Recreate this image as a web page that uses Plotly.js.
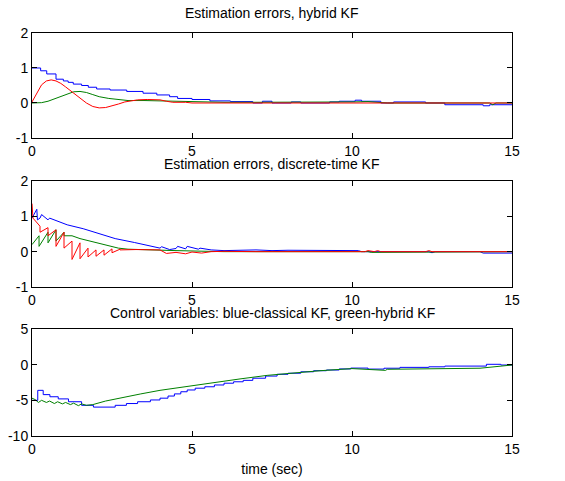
<!DOCTYPE html>
<html>
<head>
<meta charset="utf-8">
<script src="https://cdn.plot.ly/plotly-3.0.1.min.js"></script>
<style>html,body{margin:0;padding:0;background:#fff;}#chart{width:565px;height:481px;}</style>
</head>
<body>
<div id="chart"></div>
<script>
// ---------- Data ----------
// Plot 1: Estimation errors, hybrid KF
var t1Blue = [0,0.27,0.46,0.75,0.98,1.13,1.29,1.55,1.76,2.02,2.44,2.96,3.47,3.9,4.3,4.55,5.0,5.56,6.2,6.9,7.2,7.5,8.1,8.4,9.3,9.6,10.1,10.3,10.9,11.3,12.3,12.9,14.1,14.3,15];
var v1Blue = [1.0,0.92,0.83,0.68,0.63,0.59,0.54,0.5,0.45,0.4,0.37,0.33,0.28,0.23,0.18,0.13,0.1,0.06,0.04,0.0,0.05,0.0,0.03,0.0,0.03,0.05,0.08,0.05,0.0,0.03,0.0,-0.05,-0.08,-0.05,-0.05];
var t1Green = [0,0.3,0.5,0.7,0.9,1.1,1.3,1.5,1.7,1.9,2.1,2.4,2.7,3.0,3.5,4.0,4.4,5.0,6.0,7.0,8.0,9.0,10.0,10.5,11.0,11.1,14.3,14.4,14.5,15];
var v1Green = [0,0.01,0.05,0.12,0.2,0.27,0.32,0.33,0.3,0.24,0.18,0.13,0.09,0.07,0.07,0.06,0.04,0.02,0.02,0.02,0.02,0.01,0.03,0.04,0.02,0,0,-0.05,0,0];
var t1Red = [0,0.1,0.2,0.3,0.45,0.6,0.75,0.9,1.05,1.2,1.35,1.5,1.7,1.9,2.1,2.3,2.5,2.7,2.9,3.1,3.3,3.6,4.0,4.2,4.4,4.8,5.0,7.6,15];
var v1Red = [0.03,0.2,0.38,0.52,0.63,0.66,0.63,0.56,0.46,0.35,0.24,0.14,0.0,-0.1,-0.14,-0.13,-0.09,-0.03,0.03,0.07,0.09,0.1,0.09,0.05,0.02,0.02,0.0,0,0];

// Plot 2: Estimation errors, discrete-time KF
var t2Blue = [0,0.15,0.17,0.25,0.3,0.5,0.55,0.75,1.1,1.6,2.1,2.6,3.2,3.7,4.0,4.05,4.3,4.5,4.55,4.8,4.85,5.2,5.25,5.6,6.0,7.0,7.5,8.0,9.0,10.2,10.3,12.4,12.5,12.6,14.0,14.1,15];
var v2Blue = [0.95,1.2,0.9,0.95,1.05,0.9,0.95,0.88,0.76,0.65,0.5,0.37,0.26,0.17,0.1,0.14,0.06,0.09,0.15,0.08,0.15,0.07,0.1,0.05,0.03,0.05,0.03,0.04,0.03,0.03,0.0,0.0,-0.03,0.0,0.0,-0.04,-0.04];
var t2Green = [0,0.22,0.22,0.5,0.5,0.75,0.75,1.0,1.0,1.25,1.5,1.8,2.1,2.4,2.7,3.0,3.5,4.5,5.5,6.0,10.5,10.6,15];
var v2Green = [0.2,0.45,0.15,0.55,0.25,0.62,0.3,0.55,0.45,0.45,0.37,0.3,0.22,0.15,0.1,0.07,0.05,0.03,0.01,0.0,0.0,-0.02,0.0];
var t2Red = [0,0.03,0.25,0.25,0.5,0.5,0.75,0.75,1.0,1.0,1.25,1.25,1.5,1.5,1.75,1.75,2.0,2.0,2.25,2.25,2.5,2.5,2.75,2.75,3.25,4.0,4.2,4.5,4.8,5.0,5.3,5.6,6.0,7.0,10.4,10.5,10.7,10.8,10.9,12.3,12.4,12.5,15];
var v2Red = [1.36,0.95,0.72,0.55,0.68,0.45,0.62,0.15,0.55,0.1,0.3,-0.22,0.25,-0.2,0.1,-0.15,0.05,-0.13,0.05,-0.1,0.08,-0.03,0.07,0.05,0.06,0.05,-0.05,-0.02,-0.06,-0.01,-0.04,0.0,0.01,0.0,0.0,0.03,0.0,0.03,0.0,0.0,0.03,0.0,0.0];

// Plot 3: Control variables
var t3Blue = [0,0.18,0.35,0.56,0.82,1.14,1.55,1.92,2.6,2.95,3.3,3.7,4.0,4.25,4.45,4.65,4.85,5.1,5.4,5.7,6.0,6.3,6.6,6.9,7.3,7.66,8.0,8.4,8.8,9.2,9.6,9.96,10.5,11.0,11.5,12.4,12.9,14.2,14.65,15];
var v3Blue = [-5.0,-3.6,-4.2,-4.5,-4.8,-5.2,-5.7,-5.95,-5.7,-5.45,-5.2,-4.95,-4.7,-4.4,-4.1,-3.8,-3.55,-3.3,-3.1,-2.85,-2.6,-2.4,-2.2,-1.9,-1.6,-1.35,-1.2,-1.0,-0.85,-0.75,-0.6,-0.48,-0.62,-0.5,-0.38,-0.3,-0.2,0.05,-0.05,-0.05];
var t3Green = [0,0.1,0.2,0.3,0.45,0.55,0.7,0.8,0.95,1.05,1.2,1.3,1.45,1.55,1.7,1.9,2.3,2.8,3.4,4.0,4.6,5.2,5.8,6.5,7.35,8.2,9.0,10.0,10.5,11.05,11.1,11.5,12.6,14.0,15];
var v3Green = [-4.7,-4.9,-5.3,-5.0,-5.3,-5.1,-5.45,-5.2,-5.5,-5.3,-5.6,-5.4,-5.75,-5.5,-5.7,-5.6,-5.1,-4.6,-4.1,-3.6,-3.2,-2.9,-2.5,-2.0,-1.5,-1.15,-0.85,-0.55,-0.65,-0.8,-0.65,-0.62,-0.55,-0.5,-0.05];

var xTicks = [0,5,10,15];
var yTicksErr = [-1,0,1,2];
var yTicksCtrl = [-10,-5,0,5];
var titles = ['Estimation errors, hybrid KF', 'Estimation errors, discrete-time KF', 'Control variables: blue-classical KF, green-hybrid KF'];
var xLabel = 'time (sec)';

// ---------- Styles ----------
var BLUE = '#0000ff', GREEN = '#008000', RED = '#ff0000';
var FONT = 'Arial, "Liberation Sans", Helvetica, sans-serif';

function tr(x, y, color, xa, ya, shape) {
  return {x: x, y: y, type: 'scatter', mode: 'lines', xaxis: xa, yaxis: ya,
          line: {color: color, width: 1, shape: shape || 'linear'}, hoverinfo: 'skip'};
}

var data = [
  tr(t1Blue, v1Blue, BLUE, 'x', 'y', 'hv'),
  tr(t1Green, v1Green, GREEN, 'x', 'y'),
  tr(t1Red, v1Red, RED, 'x', 'y'),
  tr(t2Blue, v2Blue, BLUE, 'x2', 'y2'),
  tr(t2Green, v2Green, GREEN, 'x2', 'y2'),
  tr(t2Red, v2Red, RED, 'x2', 'y2'),
  tr(t3Blue, v3Blue, BLUE, 'x3', 'y3', 'hv'),
  tr(t3Green, v3Green, GREEN, 'x3', 'y3')
];

function xax(anchor) {
  return {anchor: anchor, domain: [0, 1], range: [0, 15], tickvals: xTicks, ticktext: xTicks.map(String),
          ticks: 'inside', ticklen: 5, tickcolor: '#000', showline: true, linecolor: '#000', linewidth: 1,
          mirror: 'ticks', showgrid: false, zeroline: false, tickfont: {family: FONT, size: 14, color: '#000'}};
}
function yax(anchor, dom, rng, tv) {
  return {anchor: anchor, domain: dom, range: rng, tickvals: tv, ticktext: tv.map(String),
          ticks: 'inside', ticklen: 5, tickcolor: '#000', showline: true, linecolor: '#000', linewidth: 1,
          mirror: 'ticks', showgrid: false, zeroline: false, tickfont: {family: FONT, size: 14, color: '#000'}};
}

var xa3 = xax('y3');
xa3.title = {text: xLabel, font: {family: FONT, size: 14, color: '#000'}, standoff: 8};

var layout = {
  width: 565, height: 481,
  margin: {l: 32, r: 53, t: 0, b: 0, pad: 0},
  paper_bgcolor: '#fff', plot_bgcolor: '#fff',
  showlegend: false,
  font: {family: FONT, size: 14, color: '#000'},
  xaxis: xax('y'),
  xaxis2: xax('y2'),
  xaxis3: xa3,
  yaxis: yax('x', [0.7131, 0.9314], [-1, 2], yTicksErr),
  yaxis2: yax('x2', [0.4033, 0.6237], [-1, 2], yTicksErr),
  yaxis3: yax('x3', [0.0936, 0.3160], [-10, 5], yTicksCtrl),
  annotations: [
    {text: titles[0], xref: 'paper', yref: 'paper', x: 0.5, y: 0.972, showarrow: false, xanchor: 'center', yanchor: 'middle', font: {family: FONT, size: 14, color: '#000'}},
    {text: titles[1], xref: 'paper', yref: 'paper', x: 0.5, y: 0.659, showarrow: false, xanchor: 'center', yanchor: 'middle', font: {family: FONT, size: 14, color: '#000'}},
    {text: titles[2], xref: 'paper', yref: 'paper', x: 0.5, y: 0.349, showarrow: false, xanchor: 'center', yanchor: 'middle', font: {family: FONT, size: 14, color: '#000'}}
  ]
};

Plotly.newPlot('chart', data, layout, {staticPlot: true, displayModeBar: false});
</script>
</body>
</html>
